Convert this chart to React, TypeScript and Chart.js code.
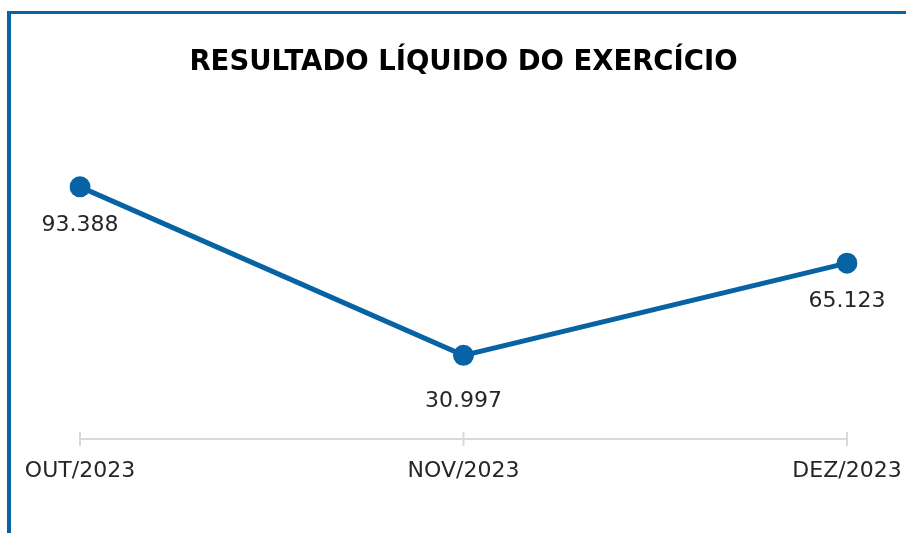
import React, { useEffect, useRef } from "react";
import { Chart, registerables } from "chart.js";

Chart.register(...registerables);

const categories = ["OUT/2023", "NOV/2023", "DEZ/2023"];
const resultado = [93388, 30997, 65123];
const valueLabels = ["93.388", "30.997", "65.123"];
const labelOffsets = [38, 46, 38];

const BLUE = "#0863a5";
const FONT = "'DejaVu Sans', sans-serif";

const axisPlugin = {
  id: "crossAxis",
  afterDatasetsDraw(chart: any) {
    const { ctx, chartArea, scales } = chart;
    const x = scales.x;
    const y = chartArea.bottom;
    ctx.save();
    ctx.strokeStyle = "#d9d9d9";
    ctx.lineWidth = 2;
    ctx.beginPath();
    ctx.moveTo(x.getPixelForTick(0), y);
    ctx.lineTo(x.getPixelForTick(categories.length - 1), y);
    for (let i = 0; i < categories.length; i++) {
      const px = x.getPixelForTick(i);
      ctx.moveTo(px, y - 7);
      ctx.lineTo(px, y + 7);
    }
    ctx.stroke();
    ctx.restore();
  },
};

const labelPlugin = {
  id: "valueLabels",
  afterDatasetsDraw(chart: any) {
    const { ctx } = chart;
    const meta = chart.getDatasetMeta(0);
    ctx.save();
    ctx.fillStyle = "#262626";
    ctx.font = `22px ${FONT}`;
    ctx.textAlign = "center";
    ctx.textBaseline = "middle";
    meta.data.forEach((pt: any, i: number) => {
      ctx.fillText(valueLabels[i], pt.x, pt.y + labelOffsets[i]);
    });
    ctx.restore();
  },
};

export default function App() {
  const ref = useRef<HTMLCanvasElement>(null);
  useEffect(() => {
    if (!ref.current) return;
    const chart = new Chart(ref.current, {
      type: "line",
      data: {
        labels: categories,
        datasets: [
          {
            data: resultado,
            borderColor: BLUE,
            backgroundColor: BLUE,
            borderWidth: 5,
            pointRadius: 10.5,
            pointBackgroundColor: BLUE,
            pointBorderWidth: 0,
            tension: 0,
          },
        ],
      },
      options: {
        animation: false,
        responsive: false,
        layout: { padding: { left: 80, right: 59, top: 0, bottom: 0 } },
        plugins: {
          legend: { display: false },
          tooltip: { enabled: false },
          title: {
            display: true,
            text: "RESULTADO LÍQUIDO DO EXERCÍCIO",
            color: "#000000",
            fullSize: false,
            font: { family: FONT, size: 27.5, weight: "bold", lineHeight: 1.2 },
            padding: { top: 46, bottom: 169 - 46 - 33 },
          },
        },
        scales: {
          x: {
            offset: false,
            grid: { display: false, drawTicks: false },
            border: { display: false },
            ticks: {
              color: "#262626",
              font: { family: FONT, size: 22 },
              padding: 19,
              maxRotation: 0,
              autoSkip: false,
            },
            afterFit: (s: any) => {
              s.height = 94;
              s.paddingLeft = 0;
              s.paddingRight = 0;
            },
          },
          y: {
            display: false,
            min: 0,
            max: 100000,
          },
        },
      },
      plugins: [axisPlugin, labelPlugin],
    });
    return () => chart.destroy();
  }, []);

  return (
    <div style={{ position: "fixed", left: 0, top: 0, width: 906, height: 533, background: "#fff" }}>
      <canvas ref={ref} width={906} height={533} style={{ position: "absolute", left: 0, top: 0 }} />
      <div
        style={{
          position: "absolute",
          left: 7,
          top: 11,
          width: 899,
          height: 522,
          borderLeft: `4px solid ${BLUE}`,
          borderTop: `3px solid ${BLUE}`,
          boxSizing: "border-box",
          pointerEvents: "none",
        }}
      />
    </div>
  );
}
